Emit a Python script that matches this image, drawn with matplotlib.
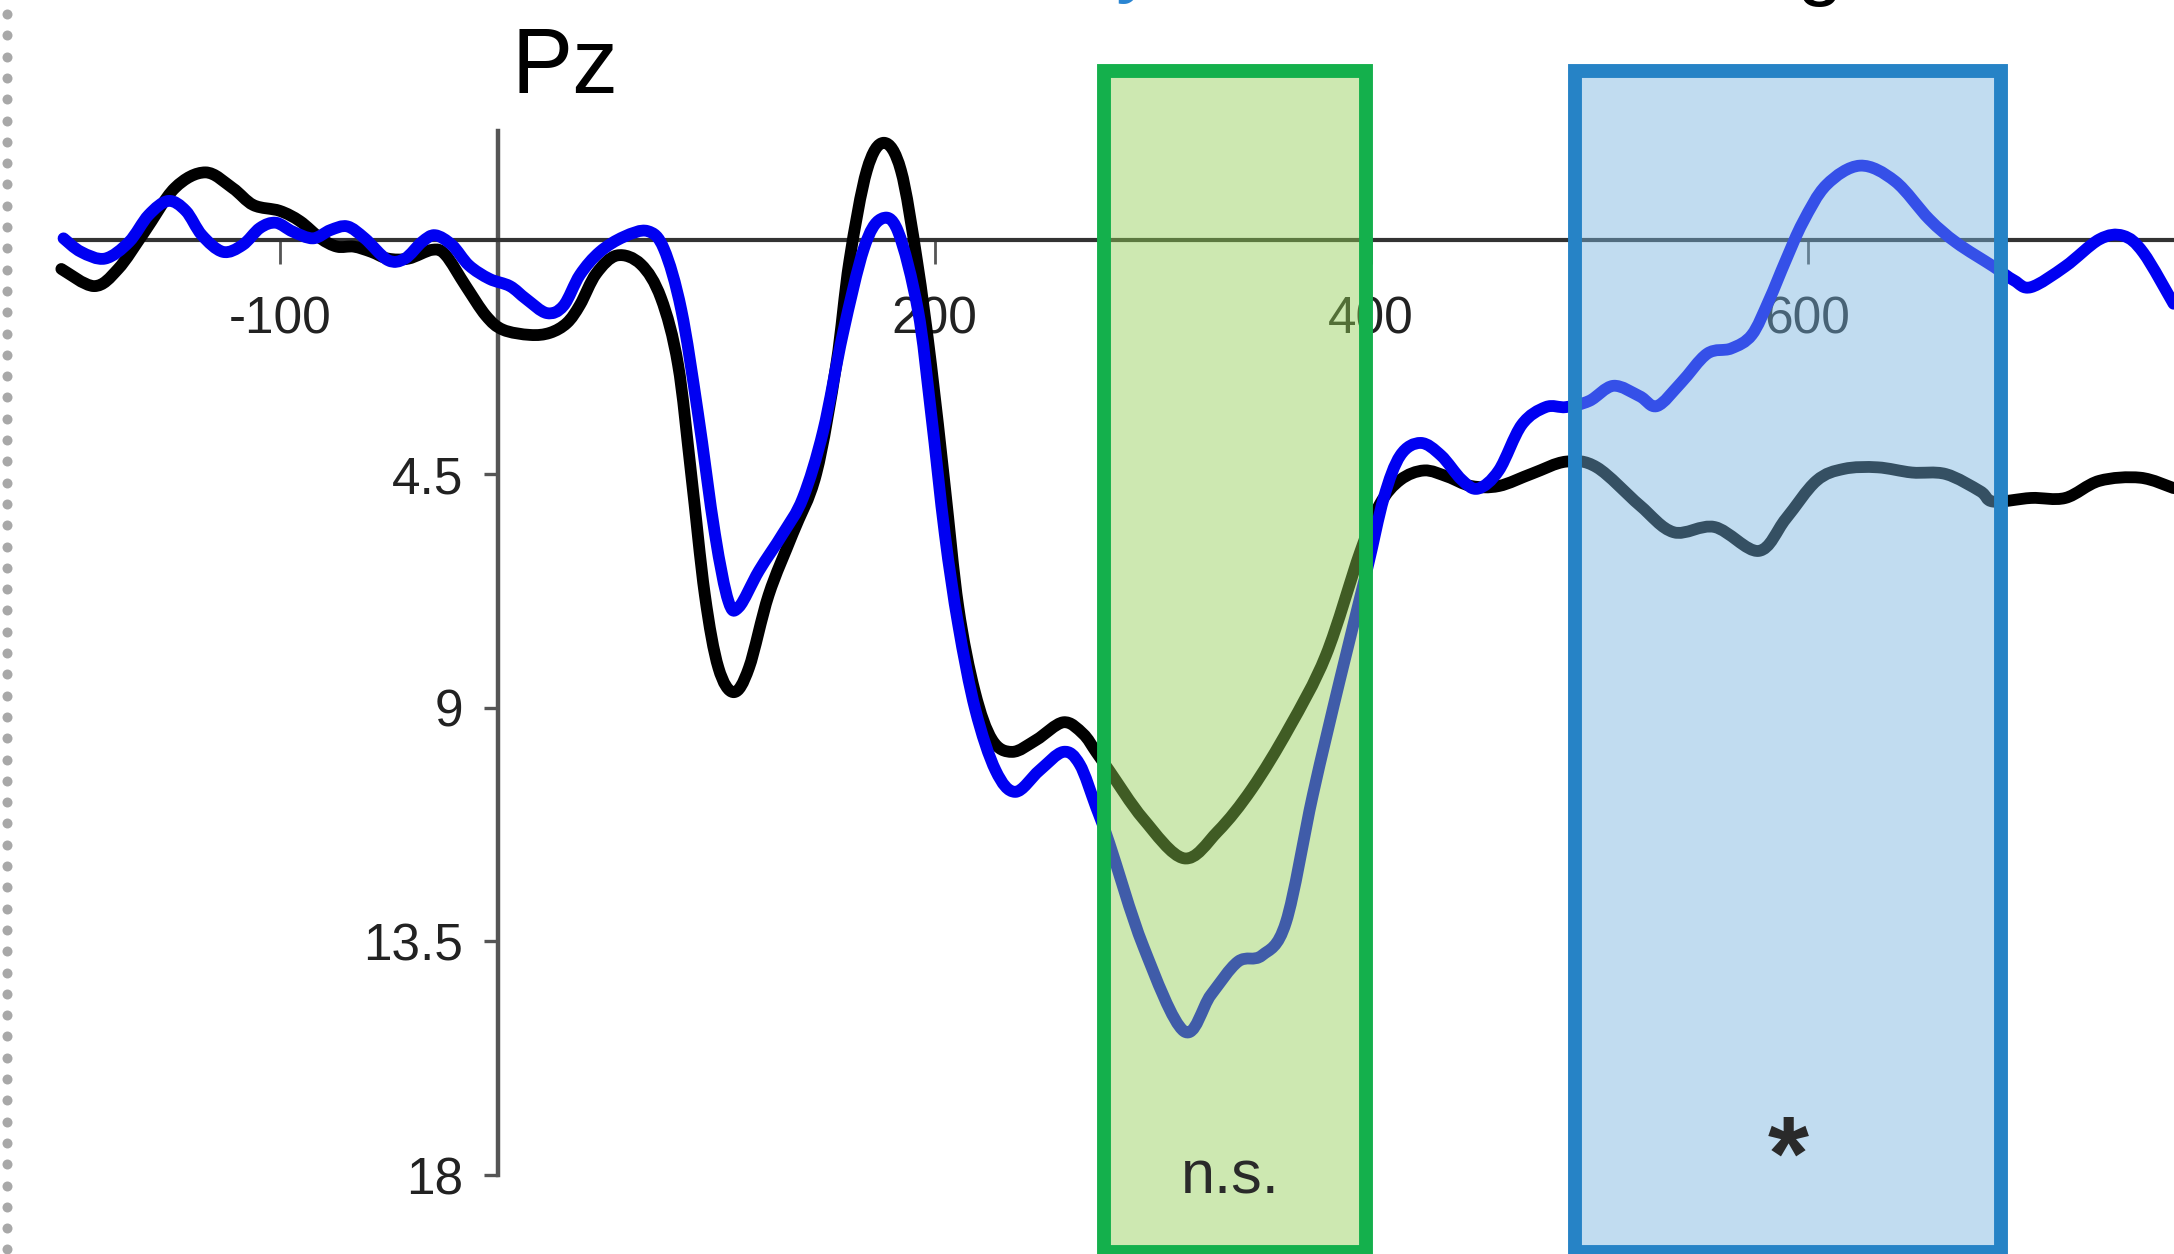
import numpy as np
import matplotlib
matplotlib.use('Agg')
import matplotlib.pyplot as plt
from matplotlib.patches import Rectangle, PathPatch
from matplotlib.path import Path
from matplotlib.lines import Line2D

plt.rcParams['font.family'] = ['Liberation Sans', 'DejaVu Sans']

# ERP at Pz, amplitude axis inverted (positive down)
black_t = [-200, -185, -174, -162, -148, -134, -121.6, -112, -100, -90.7, -81.3, -73.7,
           -66, -58, -50.4, -41, -30, -24, -14.7, -5.5, 2.3, 14.7, 23.8, 31.6, 37.6,
           45, 54.5, 65.5, 74.7, 82.5, 88.5, 94.8, 101, 108, 115, 124, 135, 145.8,
           155, 161, 169, 176.8, 184.6, 192, 198.4, 204.7, 210.9, 218.5, 226.4,
           235.6, 246.6, 259, 268, 274, 280, 295.6, 314.3, 329.8, 345.4, 362.4,
           379.3, 395, 404, 413.4, 424.3, 435, 445.8, 458.5, 473.8, 489.3, 503.4,
           523, 538.6, 557.4, 577.5, 590, 604, 616.6, 632, 647.7, 663.3, 679, 685,
           702.3, 718, 733.6, 752.4, 767.6]
black_v = [0.55, 0.88, 0.55, -0.16, -1.01, -1.31, -1.01, -0.68, -0.57, -0.37, -0.04, 0.12,
           0.12, 0.22, 0.35, 0.35, 0.18, 0.28, 0.88, 1.45, 1.72, 1.82, 1.78, 1.59, 1.24,
           0.64, 0.29, 0.46, 1.11, 2.39, 4.49, 6.83, 8.23, 8.7, 8.23, 6.83, 5.65, 4.49,
           2.39, 0.4, -1.35, -1.88, -1.35, 0.4, 2.39, 4.73, 7.06, 8.7, 9.62,
           9.85, 9.62, 9.28, 9.5, 9.85, 10.21, 11.14, 11.9, 11.38, 10.56, 9.39,
           7.99, 6.0, 5.08, 4.61, 4.43, 4.55, 4.73, 4.73, 4.49, 4.26, 4.37,
           5.1, 5.62, 5.52, 5.98, 5.36, 4.63, 4.4, 4.37, 4.47, 4.5, 4.83, 5.03,
           4.96, 4.96, 4.63, 4.57, 4.77]

blue_t = [-199, -191, -180, -169, -160, -151, -143, -135.6, -126, -117, -109, -101.7,
          -94, -84.7, -76.7, -69, -61, -50.4, -42.6, -34.8, -28.8, -21, -13.3, -3.9,
          5.5, 13, 22.4, 30, 37.6, 46.7, 57.7, 68.5, 76, 84, 91.6, 99.4, 105.6,
          110.4, 119.6, 130.5, 139.7, 149, 158, 167.6, 175.4, 183.2, 192.4, 198.4,
          204.7, 210.9, 218.7, 228, 237, 248, 259, 266.5, 274, 280, 295.6, 314.3,
          326.6, 339, 350, 361, 373.3, 385.7, 398, 405.8, 413.4, 422.7, 432, 441.5,
          449, 458.5, 469, 480, 489.3, 500, 511, 523, 531, 542, 554, 565, 574.4,
          582.2, 590, 597.8, 608.6, 624, 640, 655.6, 668, 685, 694.5, 702.3, 718,
          733.6, 744.5, 753.8, 767.6]
blue_v = [-0.04, 0.22, 0.35, 0.03, -0.49, -0.76, -0.57, -0.1, 0.22, 0.09, -0.24, -0.34,
          -0.17, -0.04, -0.2, -0.27, -0.04, 0.38, 0.35, 0.03, -0.1, 0.09, 0.48, 0.74,
          0.88, 1.13, 1.4, 1.26, 0.66, 0.22, -0.07, -0.18, 0.16, 1.34, 3.32, 5.65, 6.95,
          7.06, 6.36, 5.65, 4.96, 3.67, 1.8, 0.16, -0.41, -0.18, 1.34, 3.32,
          5.65, 7.41, 9.04, 10.21, 10.62, 10.21, 9.85, 10.09, 10.91, 11.6, 13.59, 15.23,
          14.53, 13.89, 13.77, 13.13, 10.68, 8.46, 6.36, 4.96, 4.14, 3.9, 4.14, 4.61,
          4.78, 4.43, 3.55, 3.21, 3.21, 3.09, 2.8, 3.0, 3.19, 2.74, 2.18, 2.08, 1.82,
          1.16, 0.38, -0.35, -1.07, -1.44, -1.14, -0.41, 0.04, 0.5, 0.77, 0.9, 0.5,
          -0.02, -0.09, 0.24, 1.22]

xticks = [-100, 200, 400, 600]
yticks = [4.5, 9, 13.5, 18]
ytick_labels = ['4.5', '9', '13.5', '18']

# analysis windows: (start, end, label)
win_ns = (277.6, 397.6, 'n.s.')
win_sig = (493.4, 688.7, '*')


def smooth_path(xs, ys):
    # catmull-rom through the read points, drawn as cubic bezier segments
    p = np.column_stack([xs, ys]).astype(float)
    p = np.vstack([p[0], p, p[-1]])
    verts = [p[1]]
    codes = [Path.MOVETO]
    for i in range(1, len(p) - 2):
        c1 = p[i] + (p[i + 1] - p[i - 1]) / 6
        c2 = p[i + 1] - (p[i + 2] - p[i]) / 6
        verts += [c1, c2, p[i + 1]]
        codes += [Path.CURVE4] * 3
    return Path(verts, codes)


fig = plt.figure(figsize=(21.74, 12.54), dpi=100)
ax = fig.add_axes([0, 0, 1, 1])
ax.set_xlim(-228.1, 767.8)
ax.set_ylim(19.52, -4.63)

ax.add_patch(PathPatch(smooth_path(black_t, black_v), fill=False, edgecolor='black',
                       lw=8.5, joinstyle='round', capstyle='round', zorder=3))
ax.add_patch(PathPatch(smooth_path(blue_t, blue_v), fill=False, edgecolor='#0000f2',
                       lw=8.5, joinstyle='round', capstyle='round', zorder=3.5))

# axes through the origin
for s in ['top', 'right']:
    ax.spines[s].set_visible(False)
ax.spines['left'].set_position(('data', 0))
ax.spines['left'].set_bounds(-2.1, 18)
ax.spines['left'].set_color('#555555')
ax.spines['left'].set_linewidth(3.2)
ax.spines['bottom'].set_position(('data', 0))
ax.spines['bottom'].set_bounds(-200, 767.8)
ax.spines['bottom'].set_color('#333333')
ax.spines['bottom'].set_linewidth(3.0)

ax.set_xticks(xticks)
ax.set_xticklabels([str(t) for t in xticks])
ax.set_yticks(yticks)
ax.set_yticklabels(ytick_labels)
ax.tick_params(axis='x', direction='out', length=17, width=2.0, color='#555555',
               pad=23, labelsize=37, labelcolor='#222222')
ax.tick_params(axis='y', direction='out', length=10, width=2.4, color='#555555',
               pad=15, labelsize=37, labelcolor='#222222')

ax.text(6.4, -2.84, 'Pz', fontsize=66, ha='left', va='baseline', color='black')

# shaded windows drawn on top of the traces
ymin_box, ymax_box = -3.26, 19.48
ax.add_patch(Rectangle((win_ns[0], ymin_box), win_ns[1] - win_ns[0], ymax_box - ymin_box,
                       facecolor=(144/255, 206/255, 82/255, 0.45), edgecolor='#14b04c',
                       lw=10, zorder=5))
ax.add_patch(Rectangle((win_sig[0], ymin_box), win_sig[1] - win_sig[0], ymax_box - ymin_box,
                       facecolor=(119/255, 179/255, 222/255, 0.45), edgecolor='#2683c6',
                       lw=10, zorder=5))
ax.text((win_ns[0] + win_ns[1]) / 2 - 2, 18.35, win_ns[2], fontsize=44, ha='center',
        va='baseline', color='#2a2a2a', zorder=6)
ax.text((win_sig[0] + win_sig[1]) / 2, 18.27, win_sig[2], fontsize=76, fontweight='bold',
        ha='center', va='baseline', color='#2a2a2a', zorder=6)

# bits of the cut-off title above the frame
ax.text(283, -4.88, 'y', fontsize=60, color='#2a85d2', ha='left', va='baseline')
ax.text(595, -4.83, 'g', fontsize=60, color='black', ha='left', va='baseline')

# dotted border on the left
dot_y = np.arange(1 - 14.1 / 1254, 0, -21.3 / 1254)
fig.add_artist(Line2D(np.full(len(dot_y), 6.5 / 2174), dot_y, ls='none', marker='o',
                      ms=7.2, mfc='#a8a8a8', mec='none', transform=fig.transFigure))

fig.savefig('out.png', dpi=100)
